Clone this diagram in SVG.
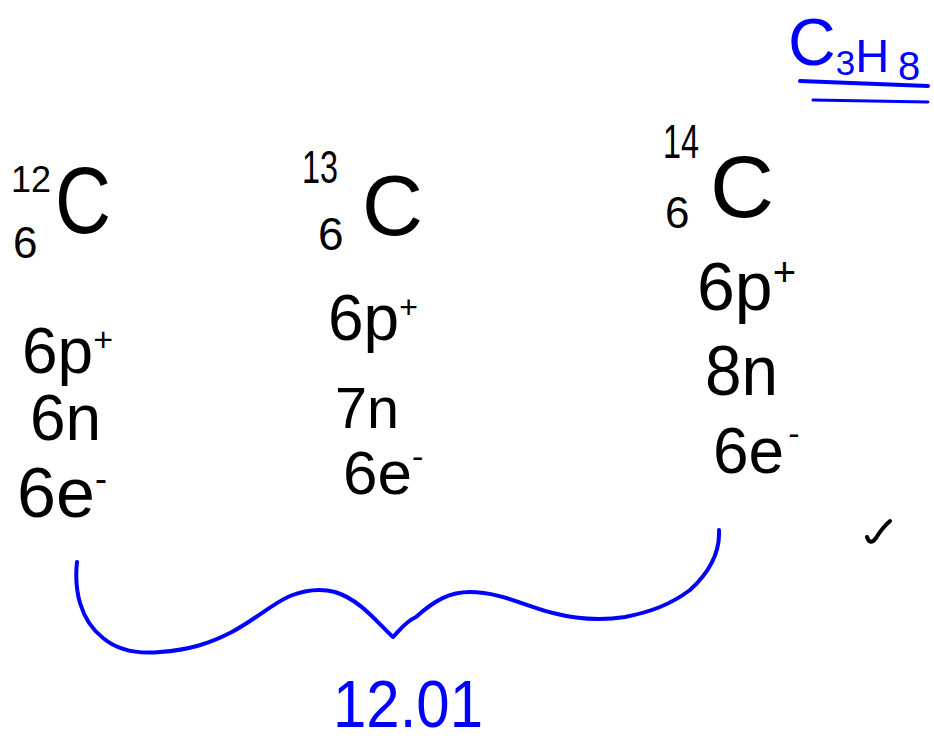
<svg xmlns="http://www.w3.org/2000/svg" width="934" height="742" viewBox="0 0 934 742">
<style>
.k{font-family:"Liberation Sans","DejaVu Sans",sans-serif;fill:#000}
.b{font-family:"Liberation Sans","DejaVu Sans",sans-serif;fill:#0000ff}
.ink{fill:none;stroke:#000;stroke-linecap:round;stroke-linejoin:round}
.blue{fill:none;stroke:#0000ff;stroke-linecap:round;stroke-linejoin:round}
</style>
<rect width="934" height="742" fill="#fff"/>

<g id="formula">
<text class="b" x="788" y="65" font-size="66">C<tspan font-size="35" y="75">3</tspan><tspan font-size="47" y="72">H</tspan><tspan font-size="40" y="80" dx="9">8</tspan></text>
<path class="blue" d="M800,81 L928,86" stroke-width="4"/>
<path class="blue" d="M813,100 L928,102" stroke-width="3"/>
</g>

<g id="carbon-12">
<text class="k" x="11" y="192" font-size="36">12</text>
<text class="k" x="13" y="258" font-size="44">6</text>
<text class="k" x="55" y="233" font-size="94" textLength="56" lengthAdjust="spacingAndGlyphs">C</text>
<text class="k" x="22" y="373" font-size="64">6p<tspan font-size="34" dy="-22">+</tspan></text>
<text class="k" x="30" y="440" font-size="64">6n</text>
<text class="k" x="17" y="517" font-size="70">6e<tspan font-size="36" dy="-26">-</tspan></text>
</g>

<g id="carbon-13">
<text class="k" x="302" y="183" font-size="46" textLength="36" lengthAdjust="spacingAndGlyphs">13</text>
<text class="k" x="318" y="250" font-size="46">6</text>
<text class="k" x="362" y="235" font-size="86" textLength="61" lengthAdjust="spacingAndGlyphs">C</text>
<text class="k" x="328" y="340" font-size="64">6p<tspan font-size="32" dy="-22">+</tspan></text>
<text class="k" x="335" y="428" font-size="58" textLength="64" lengthAdjust="spacingAndGlyphs">7n</text>
<text class="k" x="343" y="494" font-size="62">6e<tspan font-size="34" dy="-26">-</tspan></text>
</g>

<g id="carbon-14">
<text class="k" x="663" y="158" font-size="48" textLength="36" lengthAdjust="spacingAndGlyphs">14</text>
<text class="k" x="665" y="228" font-size="44">6</text>
<text class="k" x="710" y="217" font-size="88" textLength="64" lengthAdjust="spacingAndGlyphs">C</text>
<text class="k" x="697" y="310" font-size="68">6p<tspan font-size="40" dy="-24">+</tspan></text>
<text class="k" x="705" y="395" font-size="70" textLength="73" lengthAdjust="spacingAndGlyphs">8n</text>
<text class="k" x="713" y="473" font-size="64">6e<tspan font-size="34" dx="4" dy="-28">-</tspan></text>
</g>

<g id="check">
<path class="ink" d="M867,537 Q870,546 876,538 Q882,528 890,521" stroke-width="4"/>
</g>

<g id="connectors">
<path class="blue" stroke-width="4" d="M77,562 C74,590 80,620 103,638 C120,652 140,654 160,652 C190,650 210,643 230,633 C255,620 270,605 290,596 C305,590 320,588 335,592 C360,600 375,620 393,637 C400,630 405,622 416,617 C435,600 450,592 470,592 C500,592 525,606 553,613 C580,620 605,620 625,617 C650,612 670,605 690,590 C712,570 720,550 719,530"/>
</g>

<g id="average-mass">
<text class="b" x="333" y="727" font-size="66" textLength="150" lengthAdjust="spacingAndGlyphs">12.01</text>
</g>
</svg>
